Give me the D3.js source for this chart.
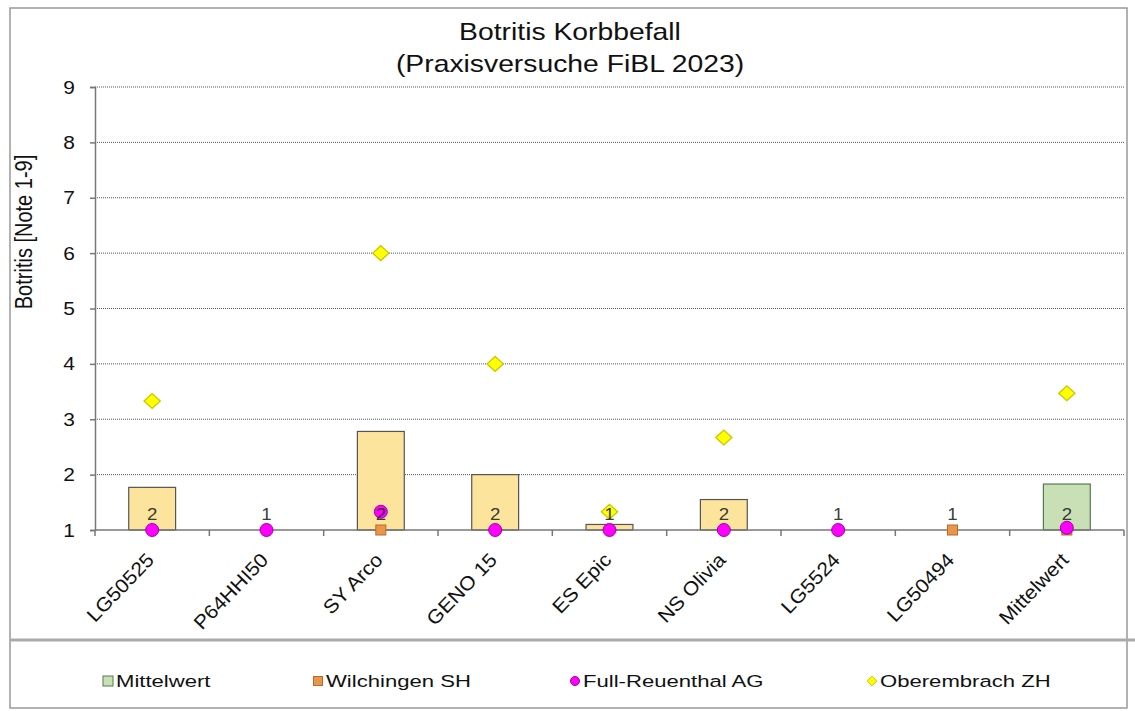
<!DOCTYPE html>
<html><head><meta charset="utf-8">
<script src="https://cdn.jsdelivr.net/npm/d3@7"></script>
<style>body{margin:0;background:#fff;font-family:"Liberation Sans",Arial,sans-serif;}</style>
</head><body><svg id="c" width="1135" height="711"></svg>
<script>
const categories = ["LG50525","P64HHI50","SY Arco","GENO 15","ES Epic","NS Olivia","LG5524","LG50494","Mittelwert"];
const barValues = [1.77, null, 2.78, 2.0, 1.1, 1.55, null, null, 1.83];
const wilchingen = [null, null, 1, null, null, null, null, 1, 1];
const fullReuenthal = [1, 1, 1.33, 1, 1, 1, 1, null, 1.04];
const oberembrach = [3.33, null, 6, 4, 1.33, 2.67, null, null, 3.47];
const countLabels = ["2","1","2","2","1","2","1","1","2"];
const yTicks = [1,2,3,4,5,6,7,8,9];
const legendItems = ["Mittelwert","Wilchingen SH","Full-Reuenthal AG","Oberembrach ZH"];

const svg = d3.select("#c");
const L = 95, R = 1124, T = 87, B = 530;
const SX = 1.15; // horizontal text stretch seen in the reference
const x = d3.scaleBand().domain(categories).range([L, R]).paddingInner(0.59).paddingOuter(0.295);
const xc = d => x(d) + x.bandwidth()/2;
const y = d3.scaleLinear().domain([1, 9]).range([B, T]);

// frame
svg.append("rect").attr("x",10).attr("y",8).attr("width",1117).attr("height",700)
  .attr("fill","none").attr("stroke","#999").attr("stroke-width",1.5);
svg.append("line").attr("x1",10).attr("x2",1135).attr("y1",640).attr("y2",640).attr("stroke","#aaa").attr("stroke-width",3);

// title
[["Botritis Korbbefall",40],["(Praxisversuche FiBL 2023)",72]].forEach(([t,yy])=>{
  svg.append("text").attr("transform",`translate(570,${yy}) scale(1.18,1)`).attr("text-anchor","middle")
    .attr("font-size",24).attr("fill","#111").text(t);
});

// grid
svg.append("g").selectAll("line").data(yTicks.filter(d=>d>1)).join("line")
  .attr("x1",L).attr("x2",R).attr("y1",d=>y(d)).attr("y2",d=>y(d))
  .attr("stroke","#555").attr("stroke-width",1).attr("stroke-dasharray","1,1");

// y axis
const ya = svg.append("g").attr("transform",`translate(${L},0)`)
  .call(d3.axisLeft(y).tickValues(yTicks).tickSize(5).tickPadding(10).tickFormat(d3.format("d")));
ya.select(".domain").attr("stroke","#777").attr("stroke-width",1.5);
ya.selectAll(".tick line").attr("stroke","#777").attr("stroke-width",1.5);
ya.selectAll("text").attr("font-size",19).attr("fill","#111").attr("font-family","Liberation Sans, Arial, sans-serif")
  .attr("x",null).attr("transform","translate(-20,0) scale(1.1,1)");

svg.append("text").attr("transform",`translate(32,232) scale(${SX},1) rotate(-90)`).attr("text-anchor","middle")
  .attr("font-size",20).attr("fill","#111").text("Botritis [Note 1-9]");

// bars
svg.append("g").selectAll("rect").data(categories.map((c,i)=>({c,v:barValues[i]})).filter(d=>d.v!=null)).join("rect")
  .attr("x",d=>x(d.c)).attr("width",x.bandwidth()).attr("y",d=>y(d.v)).attr("height",d=>y(1)-y(d.v))
  .attr("fill",d=>d.c==="Mittelwert"?"#c9e0b6":"#fde49c").attr("stroke",d=>d.c==="Mittelwert"?"#557a50":"#555").attr("stroke-width",1.2);

// x axis
const xa = svg.append("g").attr("transform",`translate(0,${B})`);
xa.append("line").attr("x1",L).attr("x2",R).attr("stroke","#777").attr("stroke-width",1.5);
xa.selectAll("line.t").data(d3.range(categories.length+1)).join("line").attr("class","t")
  .attr("x1",i=>L+i*(R-L)/categories.length).attr("x2",i=>L+i*(R-L)/categories.length).attr("y1",0).attr("y2",6)
  .attr("stroke","#777").attr("stroke-width",1.5);
xa.selectAll("text").data(categories).join("text")
  .attr("transform",d=>`translate(${xc(d)+3},${31}) rotate(-46) scale(1.08,1)`).attr("text-anchor","end")
  .attr("font-size",19.5).attr("fill","#111").text(d=>d);

// oberembrach diamonds
const diamond = d3.symbol().type(d3.symbolDiamond2).size(140);
svg.append("g").selectAll("path").data(categories.map((c,i)=>({c,v:oberembrach[i]})).filter(d=>d.v!=null)).join("path")
  .attr("d",diamond).attr("transform",d=>`translate(${xc(d.c)},${y(d.v)}) scale(1.1,1)`)
  .attr("fill","#ffff00").attr("stroke","#c8c800").attr("stroke-width",1.2);

// wilchingen squares
svg.append("g").selectAll("rect").data(categories.map((c,i)=>({c,v:wilchingen[i]})).filter(d=>d.v!=null)).join("rect")
  .attr("x",d=>xc(d.c)-5).attr("y",d=>y(d.v)-5).attr("width",10).attr("height",10)
  .attr("fill","#e8964a").attr("stroke","#b86a2a").attr("stroke-width",1);

// full-reuenthal circles
svg.append("g").selectAll("circle").data(categories.map((c,i)=>({c,v:fullReuenthal[i]})).filter(d=>d.v!=null)).join("circle")
  .attr("cx",d=>xc(d.c)).attr("cy",d=>y(d.v)).attr("r",6.5)
  .attr("fill","#ff00ff").attr("stroke","#a000a0").attr("stroke-width",1);

// count labels (drawn on top of the markers)
svg.append("g").selectAll("text").data(categories.map((c,i)=>({c,t:countLabels[i]}))).join("text")
  .attr("transform",d=>`translate(${xc(d.c)},${y(1.3)+7}) scale(1.1,1)`).attr("text-anchor","middle")
  .attr("font-size",17).attr("fill","#222").attr("fill-opacity",0.9).text(d=>d.t);

// legend
const lx = [108, 318, 575, 872], ly = 681;
const lg = svg.append("g");
legendItems.forEach((name,i)=>{
  const g = lg.append("g").attr("transform",`translate(${lx[i]},${ly})`);
  if(i===0) g.append("rect").attr("x",-5).attr("y",-5).attr("width",10).attr("height",10).attr("fill","#c9e0b6").attr("stroke","#557a50");
  if(i===1) g.append("rect").attr("x",-4.5).attr("y",-4.5).attr("width",9).attr("height",9).attr("fill","#e8964a").attr("stroke","#b86a2a");
  if(i===2) g.append("circle").attr("r",4.5).attr("fill","#ff00ff").attr("stroke","#a000a0");
  if(i===3) g.append("path").attr("d",d3.symbol().type(d3.symbolDiamond2).size(60)).attr("fill","#ffff00").attr("stroke","#c8c800");
  g.append("text").attr("transform","translate(8,6) scale(1.3,1)").attr("font-size",17).attr("fill","#111").text(name);
});
</script></body></html>
